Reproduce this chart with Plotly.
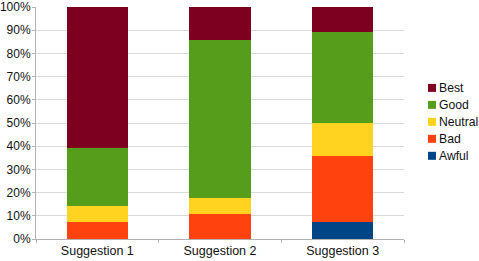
import plotly.graph_objects as go

categories = ["Suggestion 1", "Suggestion 2", "Suggestion 3"]
series_names = ["Awful", "Bad", "Neutral", "Good", "Best"]
awful = [0, 0, 2]
bad = [2, 3, 8]
neutral = [2, 2, 4]
good = [7, 19, 11]
best = [17, 4, 3]
values = [awful, bad, neutral, good, best]
colors = ["#004586", "#ff420e", "#ffd320", "#579d1c", "#7e0021"]
y_ticks = list(range(0, 101, 10))

fig = go.Figure()
for name, vals, col in zip(series_names, values, colors):
    fig.add_trace(go.Bar(x=categories, y=vals, name=name, marker=dict(color=col, line=dict(width=0)),
                         showlegend=False))

# custom legend (top entry = last series)
font = dict(family="Liberation Sans, Arial, sans-serif", size=12, color="#111111")
font_x = dict(family="Liberation Sans, Arial, sans-serif", size=12.5, color="#111111")
font_leg = dict(family="Liberation Sans, Arial, sans-serif", size=12.2, color="#111111")
shapes = []
annotations = []
W, H = 479, 261
PL, PR, PT, PB = 36, 404, 7, 239.3
top_y = 88
step = 17
for i, (name, col) in enumerate(reversed(list(zip(series_names, colors)))):
    yc = top_y + i * step
    shapes.append(dict(type="rect", xref="paper", yref="paper",
                       x0=(428 - PL) / (PR - PL), x1=(436 - PL) / (PR - PL),
                       y0=(PB - (yc + 4)) / (PB - PT), y1=(PB - (yc - 4)) / (PB - PT),
                       fillcolor=col, line=dict(width=0)))
    annotations.append(dict(xref="paper", yref="paper", x=(437 - PL) / (PR - PL),
                            y=(PB - yc) / (PB - PT), text=name, showarrow=False,
                            xanchor="left", yanchor="middle", font=font_leg))

fig.update_layout(
    barmode="stack",
    barnorm="percent",
    bargap=0.5,
    width=W, height=H,
    margin=dict(l=PL, r=W - PR, t=PT, b=H - PB, autoexpand=False),
    paper_bgcolor="white",
    plot_bgcolor="white",
    font=font,
    shapes=shapes,
    annotations=annotations,
    xaxis=dict(tickson="boundaries", ticks="outside", ticklen=3, tickcolor="#b3b3b3",
               showline=True, linecolor="#b3b3b3", linewidth=1, showgrid=False,
               automargin=False, tickfont=font_x),
    yaxis=dict(range=[0, 100.001], tickvals=y_ticks, ticktext=[f"{v}%" for v in y_ticks],
               ticks="outside", ticklen=3, tickcolor="#b3b3b3",
               showline=True, linecolor="#b3b3b3", linewidth=1,
               showgrid=True, gridcolor="#d9d9d9", gridwidth=1, zeroline=False,
               automargin=False, ticklabelstandoff=-1,
               ticklabeloverflow="allow", tickfont=font),
)

fig.write_html("out.html")
